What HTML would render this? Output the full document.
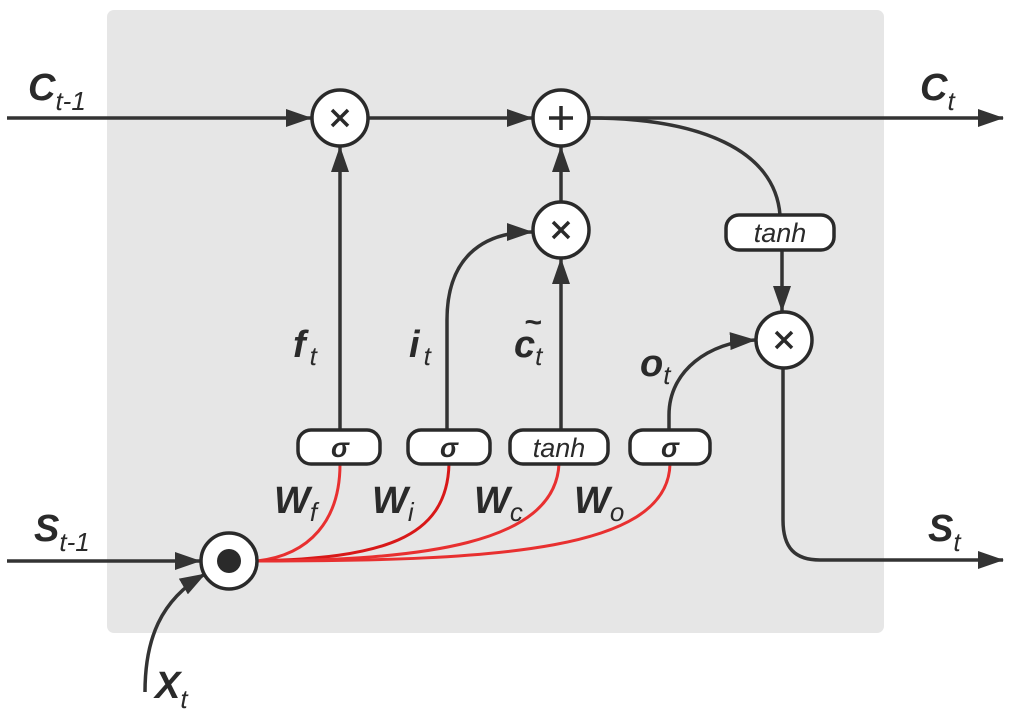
<!DOCTYPE html>
<html><head><meta charset="utf-8"><style>
html,body{margin:0;padding:0;background:#fff;}
svg{display:block;}
text{font-family:"Liberation Sans","DejaVu Sans",sans-serif;fill:#2a2a2a;}
.lbl{font-weight:bold;font-style:italic;font-size:38px;}
.sub{font-style:italic;font-size:26px;font-weight:normal;}
</style></head><body>
<svg width="1012" height="716" viewBox="0 0 1012 716" xmlns="http://www.w3.org/2000/svg">
<defs>
<marker id="ar" viewBox="0 0 26 18" refX="25" refY="9" markerWidth="26" markerHeight="18" orient="auto" markerUnits="userSpaceOnUse"><path d="M0,0 L26,9 L0,18 Z" fill="#333"/></marker>
</defs>
<rect x="107" y="10" width="777" height="623" rx="7" fill="#e6e6e6"/>
<g stroke="#333" stroke-width="3.5" fill="none">
<line x1="7" y1="118" x2="311" y2="118" marker-end="url(#ar)"/>
<line x1="368" y1="118" x2="532" y2="118" marker-end="url(#ar)"/>
<line x1="589" y1="118" x2="1003" y2="118" marker-end="url(#ar)"/>
<path d="M589,118 C700,118 775,150 780,215"/>
<line x1="782" y1="250" x2="782" y2="311" marker-end="url(#ar)"/>
<line x1="340" y1="430" x2="340" y2="147" marker-end="url(#ar)"/>
<line x1="561" y1="430" x2="561" y2="259" marker-end="url(#ar)"/>
<line x1="561" y1="202" x2="561" y2="147" marker-end="url(#ar)"/>
<path d="M447,430 L447,320 C447,260 480,232 532,232" marker-end="url(#ar)"/>
<path d="M669,430 L669,415 C669,370 710,342 755,340" marker-end="url(#ar)"/>
<path d="M783,368 L783,520 C783,548 795,560 820,560 L1003,560" marker-end="url(#ar)"/>
<line x1="7" y1="561" x2="200" y2="561" marker-end="url(#ar)"/>
<path d="M145,692 C145,640 160,600 205,574" marker-end="url(#ar)"/>
</g>
<g stroke="#e83030" stroke-width="3" fill="none">
<path d="M257,561 C310,555 340,520 340,464"/>
<path d="M257,561 C380,558 447,540 449,464" stroke="#d81818"/>
<path d="M257,561 C420,560 555,545 559,464"/>
<path d="M257,561 C500,561 668,550 670,464"/>
</g>
<g stroke="#2a2a2a" stroke-width="3.5" fill="#fff">
<circle cx="340" cy="118" r="28"/>
<circle cx="561" cy="118" r="28"/>
<circle cx="561" cy="230" r="28"/>
<circle cx="784" cy="340" r="28"/>
<circle cx="229" cy="561" r="28"/>
<rect x="298" y="430" width="82" height="34" rx="13"/>
<rect x="408" y="430" width="82" height="34" rx="13"/>
<rect x="510" y="430" width="98" height="34" rx="13"/>
<rect x="630" y="430" width="80" height="34" rx="13"/>
<rect x="726" y="215" width="108" height="35" rx="13"/>
</g>
<circle cx="229" cy="561" r="12" fill="#2a2a2a"/>
<g stroke="#2a2a2a" stroke-width="3.5">
<path d="M332,110 L348,126 M348,110 L332,126"/>
<path d="M553,222 L569,238 M569,222 L553,238"/>
<path d="M776,332 L792,348 M792,332 L776,348"/>
<path d="M561,106 L561,130 M549,118 L573,118"/>
</g>
<g text-anchor="middle">
<text x="340" y="457" font-size="27" font-weight="bold" font-style="italic">σ</text>
<text x="449" y="457" font-size="27" font-weight="bold" font-style="italic">σ</text>
<text x="670" y="457" font-size="27" font-weight="bold" font-style="italic">σ</text>
<text x="559" y="457" font-size="27" font-style="italic">tanh</text>
<text x="780" y="242" font-size="27" font-style="italic">tanh</text>
</g>
<text class="lbl" x="28" y="100">C<tspan class="sub" dy="10">t-1</tspan></text>
<text class="lbl" x="920" y="100">C<tspan class="sub" dy="10">t</tspan></text>
<text class="lbl" x="34" y="541">S<tspan class="sub" dy="10">t-1</tspan></text>
<text class="lbl" x="928" y="541">S<tspan class="sub" dy="10">t</tspan></text>
<text class="lbl" x="155" y="698">X<tspan class="sub" dy="10">t</tspan></text>
<text class="lbl" x="293" y="357">f<tspan class="sub" dx="4" dy="8">t</tspan></text>
<text class="lbl" x="409" y="357">i<tspan class="sub" dx="4" dy="8">t</tspan></text>
<text class="lbl" x="514" y="357">c<tspan class="sub" dy="8">t</tspan></text>
<text x="524" y="332" font-size="30" font-weight="bold" font-style="italic">~</text>
<text class="lbl" x="640" y="376">o<tspan class="sub" dy="8">t</tspan></text>
<text class="lbl" x="274" y="513">W<tspan class="sub" dy="8">f</tspan></text>
<text class="lbl" x="372" y="513">W<tspan class="sub" dy="8">i</tspan></text>
<text class="lbl" x="474" y="513">W<tspan class="sub" dy="8">c</tspan></text>
<text class="lbl" x="574" y="513">W<tspan class="sub" dy="8">o</tspan></text>
</svg>
</body></html>
